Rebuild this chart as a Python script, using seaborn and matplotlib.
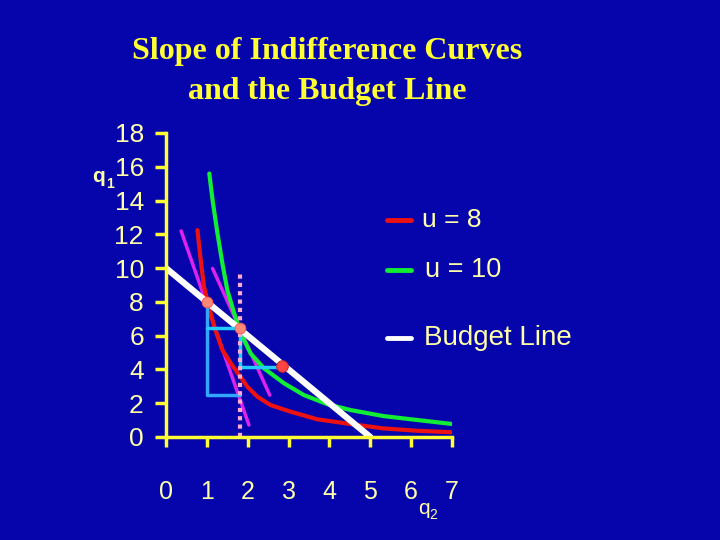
import matplotlib
matplotlib.use("Agg")
import matplotlib.pyplot as plt
import seaborn as sns
from matplotlib.lines import Line2D

# values
u8_x = [0.77, 0.85, 0.93, 1.02, 1.18, 1.38, 1.59, 1.79, 1.99, 2.24, 2.56, 3.05, 3.70, 4.51, 5.32, 6.14, 7.0]
u8_y = [12.25, 10.47, 8.89, 8.01, 6.53, 5.15, 4.36, 3.67, 2.98, 2.38, 1.89, 1.50, 1.05, 0.77, 0.51, 0.37, 0.28]

u10_x = [1.06, 1.14, 1.26, 1.38, 1.50, 1.67, 1.83, 2.07, 2.40, 2.89, 3.37, 3.94, 4.51, 5.32, 6.14, 7.0]
u10_y = [15.6, 14.02, 12.05, 10.28, 8.70, 7.32, 6.14, 4.95, 4.06, 3.18, 2.49, 1.95, 1.60, 1.24, 1.01, 0.77]

budget_x = [0, 5]
budget_y = [10, 0]

tangent1_x = [0.37, 2.03]
tangent1_y = [12.2, 0.71]
tangent2_x = [1.14, 2.54]
tangent2_y = [9.98, 2.48]

step1_x = [1.0, 1.0, 1.8]
step1_y = [8.0, 2.48, 2.48]
rise1_x = [1.0, 1.8]
rise1_y = [6.43, 6.43]
step2_x = [1.8, 1.8, 2.85]
step2_y = [6.43, 4.16, 4.16]

guide_x = [1.8, 1.8]
guide_y = [0, 9.7]

pts_x = [1.0, 1.8]
pts_y = [8.0, 6.43]
opt_x = [2.85]
opt_y = [4.2]

x_ticks = [0, 1, 2, 3, 4, 5, 6, 7]
y_ticks = [0, 2, 4, 6, 8, 10, 12, 14, 16, 18]

bg = "#0505ab"
yellow = "#ffff33"
pale = "#ffffaa"

sns.set_style("ticks", {"axes.facecolor": bg, "figure.facecolor": bg})
plt.rcParams["font.family"] = ["Liberation Sans", "DejaVu Sans"]

fig = plt.figure(figsize=(7.2, 5.4), dpi=100)
ax = fig.add_axes([166 / 720, 1 - 437 / 540, (452 - 166) / 720, (437 - 133) / 540])

sns.lineplot(x=tangent1_x, y=tangent1_y, color="#dd22ee", lw=2.5, ax=ax)
sns.lineplot(x=tangent2_x, y=tangent2_y, color="#dd22ee", lw=2.5, ax=ax)
sns.lineplot(x=u8_x, y=u8_y, color="#ee1111", lw=3, sort=False, estimator=None, ax=ax)
sns.lineplot(x=u10_x, y=u10_y, color="#11ee33", lw=3, sort=False, estimator=None, ax=ax)
sns.lineplot(x=budget_x, y=budget_y, color="white", lw=4.5, ax=ax)
sns.lineplot(x=step1_x, y=step1_y, color="#33a6ff", lw=2.5, sort=False, estimator=None, ax=ax)
sns.lineplot(x=rise1_x, y=rise1_y, color="#22ccff", lw=2.5, ax=ax)
sns.lineplot(x=step2_x, y=step2_y, color="#22ccff", lw=2.5, sort=False, estimator=None, ax=ax)
ax.plot(guide_x, guide_y, color="#ffaacc", lw=3, ls=(0, (1, 1)))
sns.scatterplot(x=pts_x, y=pts_y, color="#ff8877", edgecolor="#ff5555", s=60, zorder=5, ax=ax)
sns.scatterplot(x=opt_x, y=opt_y, color="#ff4444", edgecolor="#cc2222", s=70, zorder=5, ax=ax)

ax.set_xlim(0, 7)
ax.set_ylim(0, 18)
ax.set_xticks(x_ticks)
ax.set_yticks(y_ticks)
ax.set_xticklabels([str(t) for t in x_ticks])
ax.set_yticklabels([str(t) for t in y_ticks])
for side in ["top", "right"]:
    ax.spines[side].set_visible(False)
for side in ["left", "bottom"]:
    ax.spines[side].set_color(yellow)
    ax.spines[side].set_linewidth(2.5)
ax.tick_params(axis="y", direction="out", length=8, width=2.5, pad=8,
               color=yellow, labelcolor=pale, labelsize=19)
ax.tick_params(axis="x", direction="out", length=7, width=2.5, pad=24,
               color=yellow, labelcolor=pale, labelsize=18)
ax.set_xlabel("")
ax.set_ylabel("")

# axis names with subscripts
fig.text(92 / 720, 1 - 177 / 540, "q", color=pale, fontsize=15, fontweight="bold", ha="left", va="center")
fig.text(106 / 720, 1 - 184 / 540, "1", color=pale, fontsize=10, fontweight="bold", ha="left", va="center")
fig.text(418 / 720, 1 - 508 / 540, "q", color=pale, fontsize=15, ha="left", va="center")
fig.text(429 / 720, 1 - 515 / 540, "2", color=pale, fontsize=10, ha="left", va="center")

# title
fig.text(327 / 720, 1 - 52 / 540, "Slope of Indifference Curves", color=yellow, fontsize=23,
         fontweight="bold", family="Liberation Serif", ha="center", va="center")
fig.text(327 / 720, 1 - 92 / 540, "and the Budget Line", color=yellow, fontsize=23,
         fontweight="bold", family="Liberation Serif", ha="center", va="center")

# legend
legend_items = [("u = 8", "#ee1111", 220, 422, 19),
                ("u = 10", "#11ee33", 270, 425, 19.5),
                ("Budget Line", "white", 338, 424, 20)]
for label, col, ypix, xtext, fs in legend_items:
    fig.add_artist(Line2D([387 / 720, 411 / 720], [1 - ypix / 540, 1 - ypix / 540],
                          color=col, lw=3.5, transform=fig.transFigure))
    fig.text(xtext / 720, 1 - ypix / 540, label, color=pale, fontsize=fs, ha="left", va="center")

fig.savefig("out.png", dpi=100, facecolor=bg)
